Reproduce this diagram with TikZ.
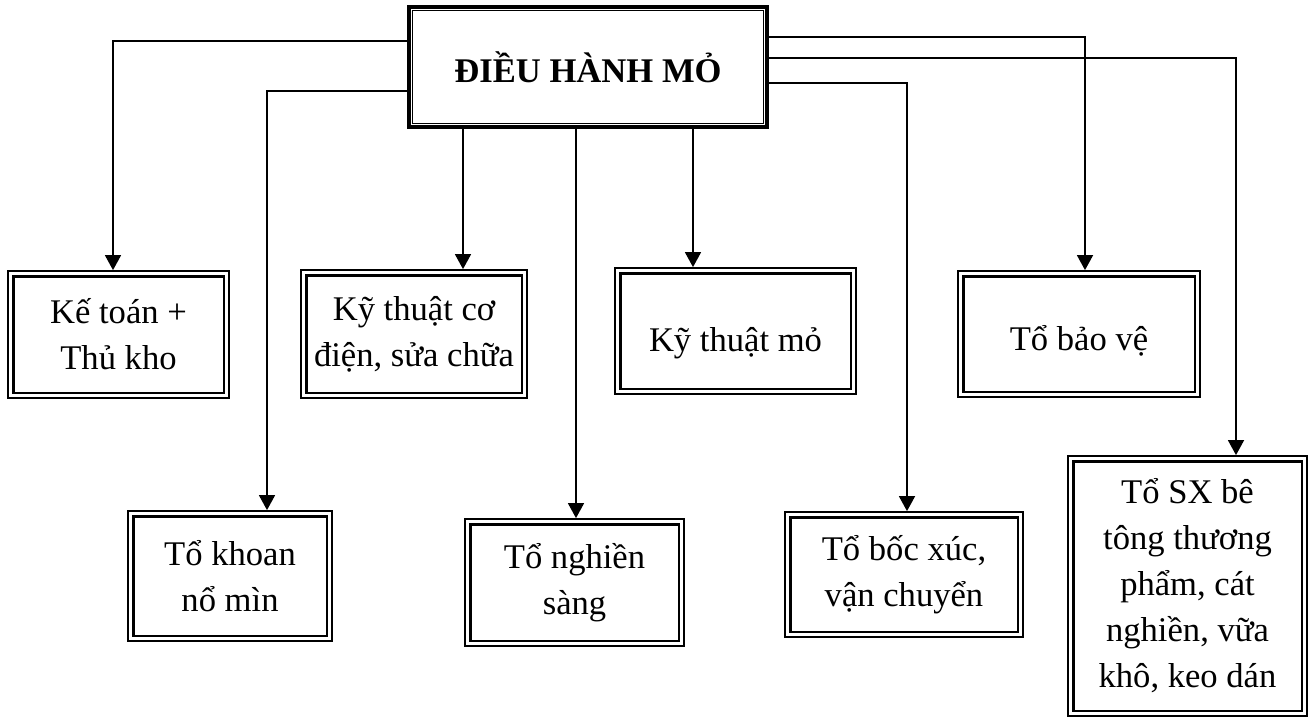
\documentclass[tikz,border=0pt]{standalone}
\usepackage{fontspec}
\setmainfont{Liberation Serif}
\usetikzlibrary{arrows.meta,positioning}

\begin{document}
\begin{tikzpicture}[x = 0.5pt, y = -0.5pt, -{Triangle[width = 8pt, length = 7.5pt]}, line width = 0.8pt, unit/.style = {draw, line width = 0.9pt, inner sep = 0pt, align = center, font = \fontsize{17.3}{23}\selectfont}, head/.style = {draw, line width = 1.6pt, inner sep = 0pt, font = \fontsize{17.3}{20}\selectfont\bfseries}]
\useasboundingbox (0,0) rectangle (1313,719);

\node[head, minimum width = 179pt, minimum height = 60pt] (dh) at (588,67) {ĐIỀU HÀNH MỎ};

\node[unit, minimum width = 110.5pt, minimum height = 63.5pt] (kt) at (118.5,334.5) {Kế toán +\\Thủ kho};
\node[unit, minimum width = 113pt, minimum height = 64pt] (cd) at (414,334) {Kỹ thuật cơ\\điện, sửa chữa};
\node[unit, minimum width = 120.5pt, minimum height = 63pt, text height = 20.5pt, text depth = 0pt] (km) at (735.5,331) {Kỹ thuật mỏ};
\node[unit, minimum width = 121pt, minimum height = 63pt, text height = 16.5pt, text depth = 0pt] (bv) at (1079,334) {Tổ bảo vệ};

\node[unit, minimum width = 102pt, minimum height = 65pt] (kh) at (230,576) {Tổ khoan\\nổ mìn};
\node[unit, minimum width = 109.5pt, minimum height = 63.5pt] (ns) at (574.5,582.5) {Tổ nghiền\\sàng};
\node[unit, minimum width = 119pt, minimum height = 62.5pt] (bx) at (904,574.5) {Tổ bốc xúc,\\vận chuyển};
\node[unit, minimum width = 119.5pt, minimum height = 130pt] (sx) at (1187.5,586) {Tổ SX bê\\tông thương\\phẩm, cát\\nghiền, vữa\\khô, keo dán};

% inner frame lines
\draw[-, line width = 0.8pt] ([shift = {(2.6pt,2.6pt)}]dh.south west) rectangle ([shift = {(-2.6pt,-2.6pt)}]dh.north east);
\foreach \n in {kt,cd,km,bv,kh,ns,bx,sx}
  \draw[-, line width = 1.4pt] ([shift = {(3pt,3pt)}]\n.south west) rectangle ([shift = {(-3pt,-3pt)}]\n.north east);

% corners of the branches
\coordinate (k1) at (113,41);
\coordinate (k2) at (267,91);
\coordinate (k3) at (463,127);
\coordinate (k4) at (576,127);
\coordinate (k5) at (693,127);
\coordinate (k6) at (1085,37);
\coordinate (k7) at (1236,58);
\coordinate (k8) at (907,83);

\draw (dh.west |- k1) -- (k1) -- (k1 |- kt.north);
\draw (dh.west |- k2) -- (k2) -- (k2 |- kh.north);
\draw (k3) -- (k3 |- cd.north);
\draw (k4) -- (k4 |- ns.north);
\draw (k5) -- (k5 |- km.north);
\draw (dh.east |- k6) -- (k6) -- (k6 |- bv.north);
\draw (dh.east |- k7) -- (k7) -- (k7 |- sx.north);
\draw (dh.east |- k8) -- (k8) -- (k8 |- bx.north);
\end{tikzpicture}
\end{document}
